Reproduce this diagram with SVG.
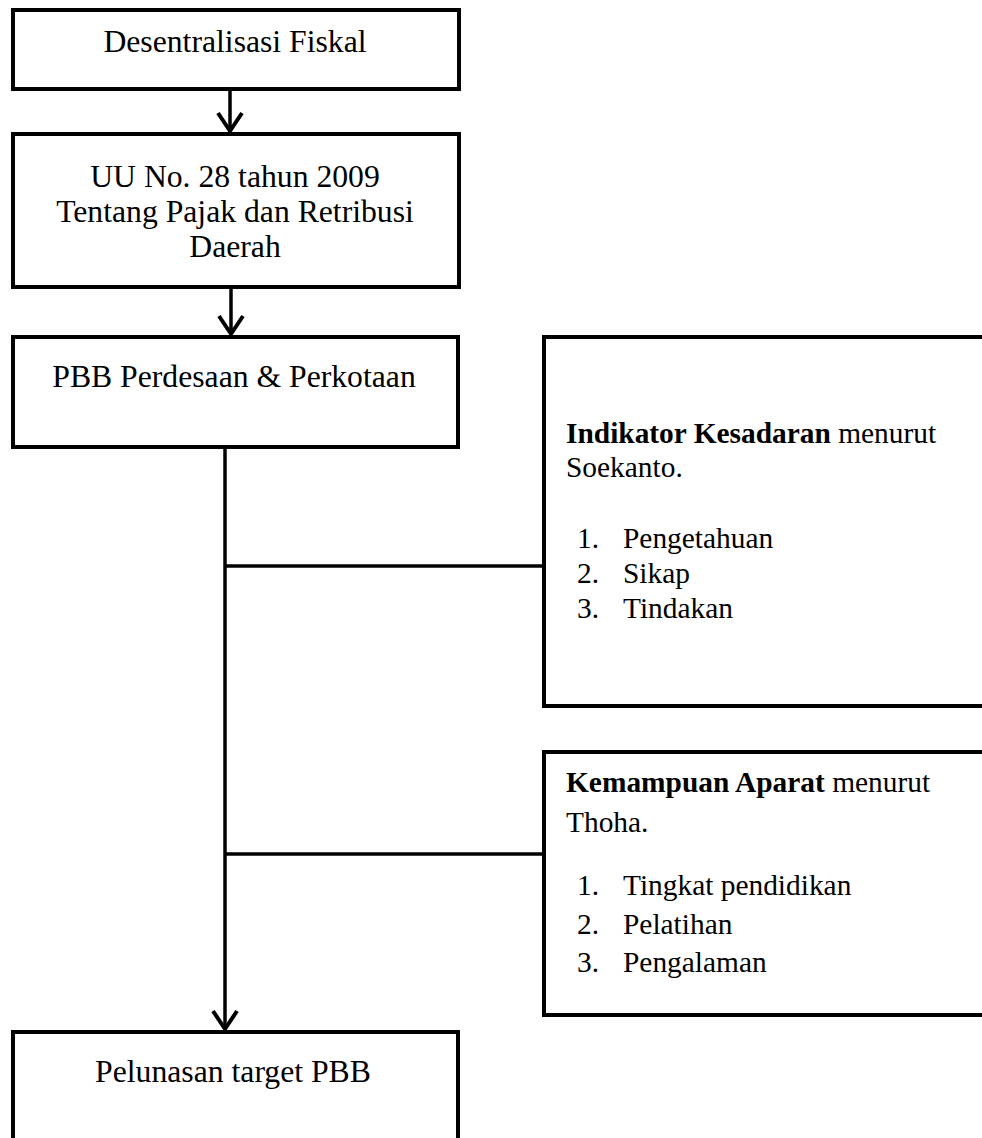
<svg xmlns="http://www.w3.org/2000/svg" width="982" height="1138" viewBox="0 0 982 1138">
  <style>
    .box { fill: #ffffff; stroke: #000000; stroke-width: 4; }
    .lbl { font-family: "Liberation Serif", "Times New Roman", serif; font-size: 31.7px; fill: #000000; }
    .mid { text-anchor: middle; }
    .sm { font-family: "Liberation Serif", "Times New Roman", serif; font-size: 29.4px; fill: #000000; }
    .b { font-weight: bold; }
    .conn { fill: none; stroke: #000000; stroke-width: 3.5; }
  </style>
  <defs>
    <marker id="vhead" markerUnits="userSpaceOnUse" orient="auto" refX="0" refY="0" markerWidth="30" markerHeight="30" viewBox="-20 -15 24 30" overflow="visible">
      <path d="M -18,-12 L 0,0 L -18,12" fill="none" stroke="#000000" stroke-width="4" stroke-linejoin="miter"/>
    </marker>
  </defs>
  <rect width="982" height="1138" fill="#ffffff"/>

  <g id="connectors">
    <line class="conn" x1="230" y1="91" x2="230" y2="131" marker-end="url(#vhead)"/>
    <line class="conn" x1="231" y1="288" x2="231" y2="334" marker-end="url(#vhead)"/>
    <line class="conn" x1="225" y1="448" x2="225" y2="1029" marker-end="url(#vhead)"/>
    <line class="conn" x1="225" y1="566" x2="543" y2="566"/>
    <line class="conn" x1="225" y1="854" x2="543" y2="854"/>
  </g>

  <g id="node-desentralisasi">
    <rect class="box" x="13" y="10" width="446" height="79"/>
    <text class="lbl mid" x="235" y="52">Desentralisasi Fiskal</text>
  </g>

  <g id="node-uu">
    <rect class="box" x="13" y="134" width="446" height="153"/>
    <text class="lbl mid" x="235" y="187">UU No. 28 tahun 2009</text>
    <text class="lbl mid" x="235" y="222">Tentang Pajak dan Retribusi</text>
    <text class="lbl mid" x="235" y="257">Daerah</text>
  </g>

  <g id="node-pbb">
    <rect class="box" x="13" y="337" width="445" height="110"/>
    <text class="lbl mid" x="234" y="387">PBB Perdesaan &amp; Perkotaan</text>
  </g>

  <g id="node-kesadaran">
    <rect class="box" x="544" y="337" width="460" height="369"/>
    <text class="sm" x="566" y="443"><tspan class="b">Indikator Kesadaran</tspan> menurut</text>
    <text class="sm" x="566" y="477">Soekanto.</text>
    <text class="sm" x="577" y="548">1.</text>
    <text class="sm" x="623" y="548">Pengetahuan</text>
    <text class="sm" x="577" y="583">2.</text>
    <text class="sm" x="623" y="583">Sikap</text>
    <text class="sm" x="577" y="618">3.</text>
    <text class="sm" x="623" y="618">Tindakan</text>
  </g>

  <g id="node-kemampuan">
    <rect class="box" x="544" y="752" width="460" height="263"/>
    <text class="sm" x="566" y="792"><tspan class="b">Kemampuan Aparat</tspan> menurut</text>
    <text class="sm" x="566" y="832">Thoha.</text>
    <text class="sm" x="577" y="895">1.</text>
    <text class="sm" x="623" y="895">Tingkat pendidikan</text>
    <text class="sm" x="577" y="934">2.</text>
    <text class="sm" x="623" y="934">Pelatihan</text>
    <text class="sm" x="577" y="972">3.</text>
    <text class="sm" x="623" y="972">Pengalaman</text>
  </g>

  <g id="node-pelunasan">
    <rect class="box" x="13" y="1032" width="445" height="130"/>
    <text class="lbl mid" x="233" y="1082">Pelunasan target PBB</text>
  </g>
</svg>
